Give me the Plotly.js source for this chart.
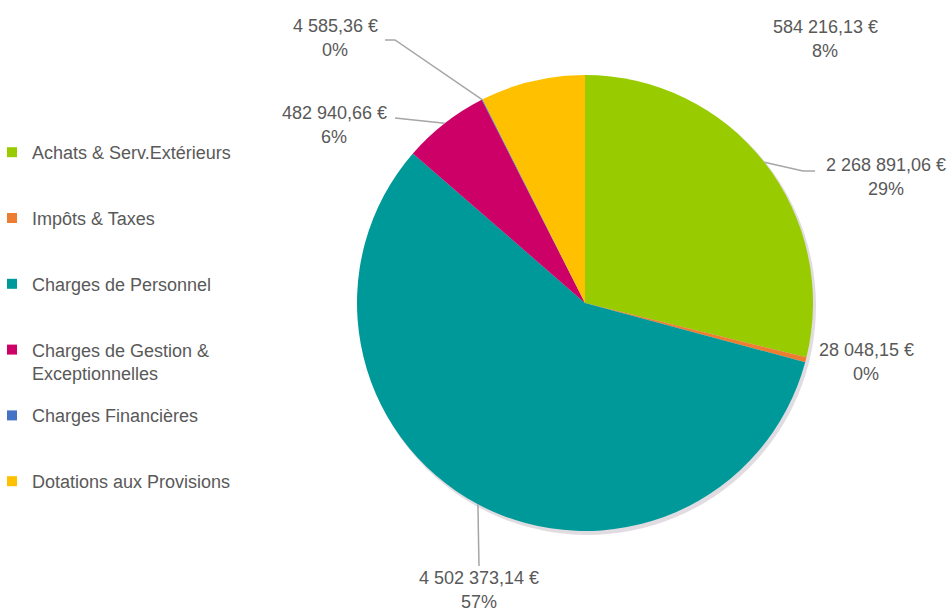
<!DOCTYPE html>
<html><head><meta charset="utf-8">
<script src="https://cdn.plot.ly/plotly-3.0.1.min.js"></script>
<style>html,body{margin:0;padding:0;background:#fff}#chart{width:952px;height:613px}</style>
</head><body><div id="chart"></div>
<script>
// ---- data ----
const categories = ['Achats & Serv.Extérieurs','Impôts & Taxes','Charges de Personnel','Charges de Gestion & Exceptionnelles','Charges Financières','Dotations aux Provisions'];
const legendLabels = ['Achats & Serv.Extérieurs','Impôts & Taxes','Charges de Personnel','Charges de Gestion &<br>Exceptionnelles','Charges Financières','Dotations aux Provisions'];
const values = [2268891.06, 28048.15, 4502373.14, 482940.66, 4585.36, 584216.13];
const pctLabels = ['29%','0%','57%','6%','0%','8%'];
const colors = ['#99CC00','#ED7D31','#009999','#CC0066','#4472C4','#FFC000'];

// ---- layout constants (pixels) ----
const W=952, H=613, CX=585, CY=303, R=228;
const FONT = '"Liberation Sans", Arial, sans-serif';
const FS = 18;
const TXT = '#595959';
const HALF = 12; // half line spacing of the two-line data labels
const labelLayout = [
  {tx:886, ty:177, path:[[803,171],[815,171]]},
  {tx:866, ty:362, path:null},
  {tx:479, ty:590, path:[[479,566]]},
  {tx:334, ty:125, path:[[395,118]]},
  {tx:335, ty:38,  path:[[395,40],[385,40]]},
  {tx:825, ty:39,  path:null}
];

function fmt(v){
  const s = v.toFixed(2).split('.');
  const i = s[0].replace(/\B(?=(\d{3})+(?!\d))/g,' ');
  return i + ',' + s[1] + ' €';
}
const px = x => x/W, py = y => 1 - y/H;

const total = values.reduce((a,b)=>a+b,0);
let cum = 0;
const anchors = values.map(v=>{
  const mid = (cum + v/2)/total*2*Math.PI; cum += v;
  return [CX + R*Math.sin(mid), CY - R*Math.cos(mid)];
});

const pie = {
  type:'pie', labels:categories, values:values, sort:false, direction:'clockwise', rotation:0,
  marker:{colors:colors, line:{width:0}}, textinfo:'none', hoverinfo:'label+value+percent',
  showlegend:false,
  domain:{x:[px(CX-R), px(CX+R)], y:[py(CY+R), py(CY-R)]}
};

const legendTraces = categories.map((c,i)=>({
  type:'scatter', mode:'markers', x:[null], y:[null],
  name: legendLabels[i].indexOf('<br>')>=0 ? legendLabels[i] : legendLabels[i] + '<br>\u00a0',
  legendgroup:'g'+i, showlegend:true,
  marker:{symbol:'square', size:10, color:colors[i]}
}));

const annotations = [];
const shapes = [];
// soft shadow
shapes.push({type:'circle', xref:'paper', yref:'paper', layer:'below',
  x0:px(CX-R+2), x1:px(CX+R+3), y0:py(CY+R+4), y1:py(CY-R+2),
  fillcolor:'rgba(90,60,90,0.18)', line:{width:0}});

values.forEach((v,i)=>{
  const L = labelLayout[i];
  [[fmt(v), L.ty-HALF],[pctLabels[i], L.ty+HALF]].forEach(([t,y])=>{
    annotations.push({xref:'paper', yref:'paper', x:px(L.tx), y:py(y), xanchor:'center', yanchor:'middle',
      showarrow:false, align:'center', text:t, font:{family:FONT, size:FS, color:TXT}});
  });
  if(L.path){
    const pts = [anchors[i]].concat(L.path);
    const d = pts.map((p,k)=>(k?'L':'M')+px(p[0])+','+py(p[1])).join(' ');
    shapes.push({type:'path', xref:'paper', yref:'paper', path:d, line:{color:'#A6A6A6', width:1.5}});
  }
});

const layout = {
  width:W, height:H, margin:{l:0,r:0,t:0,b:0, autoexpand:false}, paper_bgcolor:'#fff', plot_bgcolor:'#fff',
  xaxis:{visible:false}, yaxis:{visible:false},
  showlegend:true,
  legend:{x:-8/W, xanchor:'left', y:py(134), yanchor:'top', tracegroupgap:16, valign:'top',
    font:{family:FONT, size:FS, color:TXT}, itemclick:false, bgcolor:'rgba(0,0,0,0)'},
  annotations:annotations, shapes:shapes
};
Plotly.newPlot('chart', [pie].concat(legendTraces), layout, {displayModeBar:false, staticPlot:true});
</script></body></html>
